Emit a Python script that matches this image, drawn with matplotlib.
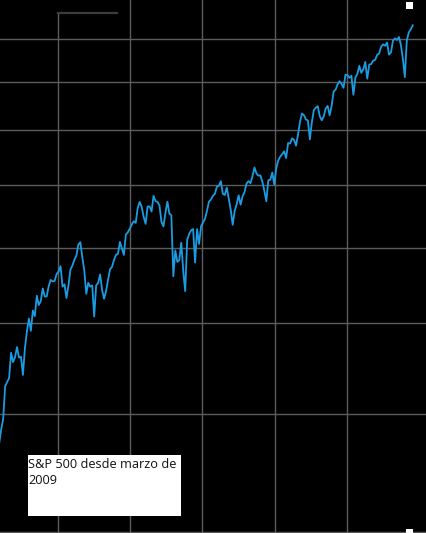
import numpy as np
import pandas as pd
import matplotlib
matplotlib.use("Agg")
import matplotlib.pyplot as plt
import matplotlib.dates as mdates
from matplotlib.patches import Rectangle
from matplotlib.lines import Line2D

# S&P 500, one value every 10 days starting 2009-03-10
sp_2009 = [745, 770, 790, 856, 865, 873, 929, 908, 919, 942, 918, 920,
           880, 940, 979, 1010, 980, 1030, 1016, 1068, 1044, 1054, 1087, 1066,
           1066, 1093, 1110, 1106, 1107, 1126]
sp_2010 = [1133, 1148, 1092, 1098, 1062, 1095, 1138, 1150, 1166, 1178, 1210, 1217,
           1173, 1136, 1073, 1102, 1092, 1095, 1015, 1095, 1102, 1125, 1083, 1060,
           1080, 1110, 1139, 1146, 1165, 1180, 1183, 1218, 1199, 1180, 1240, 1247, 1258]
sp_2011 = [1271, 1281, 1276, 1324, 1343, 1327, 1295, 1273, 1328, 1328, 1312, 1363,
           1346, 1343, 1331, 1279, 1265, 1307, 1344, 1305, 1300, 1120, 1193, 1160,
           1165, 1216, 1135, 1080, 1224, 1242, 1253, 1257, 1158, 1257, 1212, 1265]
sp_2012 = [1277, 1289, 1314, 1344, 1351, 1363, 1370, 1394, 1397, 1413, 1370, 1366,
           1391, 1353, 1318, 1270, 1314, 1335, 1365, 1334, 1362, 1376, 1405, 1413, 1406,
           1430, 1461, 1440, 1432, 1433, 1411, 1380, 1345, 1416, 1418, 1443, 1402]
sp_2013 = [1458, 1486, 1500, 1509, 1520, 1495, 1551, 1549, 1569, 1563, 1541, 1583,
           1633, 1667, 1660, 1643, 1639, 1565, 1632, 1681, 1691, 1697, 1656, 1640,
           1655, 1688, 1698, 1660, 1698, 1759, 1767, 1790, 1804, 1792, 1775, 1833]
sp_2014 = [1831, 1819, 1828, 1745, 1820, 1836, 1873, 1841, 1857, 1891, 1815, 1879,
           1881, 1897, 1900, 1924, 1930, 1962, 1974, 1967, 1983, 1925, 1936, 1992, 2003,
           1995, 2010, 1972, 1906, 1822, 1994, 2032, 2048, 2068]

sp500 = sp_2009 + sp_2010 + sp_2011 + sp_2012 + sp_2013 + sp_2014
dates = pd.date_range("2009-03-10", periods=len(sp500), freq="10D")

grid_levels = [2000, 1800, 1600, 1400, 1200, 1000, 800, 600]
grid_years = ["2010-01-01", "2011-01-01", "2012-01-01", "2013-01-01", "2014-01-01"]

W, H = 427, 533
fig = plt.figure(figsize=(W / 100, H / 100), dpi=100)
fig.patch.set_facecolor("black")
ax = fig.add_axes([0, 0, 1, 1])
ax.set_facecolor("black")

ax.set_yscale("log")
ax.set_ylim(598, 2200)
ax.set_xlim(pd.Timestamp("2009-03-14"), pd.Timestamp("2015-02-09"))

gridc = "#5c5c5c"
for lv in grid_levels:
    ax.axhline(lv, color=gridc, lw=1.0, zorder=1)
for i, d in enumerate(grid_years):
    top = 1 - 13 / H if i == 0 else 1
    ax.axvline(pd.Timestamp(d), ymin=0, ymax=top, color=gridc, lw=1.0, zorder=1)

ax.plot(dates, sp500, color="#1b9ce2", lw=1.3, zorder=3)

for s in ax.spines.values():
    s.set_visible(False)
ax.set_xticks([])
ax.set_yticks([])
ax.minorticks_off()

def px_rect(x, y, w, h, **kw):
    # rectangle given in image pixels (top-left origin)
    fig.add_artist(Rectangle((x / W, 1 - (y + h) / H), w / W, h / H,
                             transform=fig.transFigure, **kw))

# odd gray bracket at the top
fig.add_artist(Line2D([58 / W, 117 / W], [1 - 13 / H, 1 - 13 / H],
                      transform=fig.transFigure, color="#3c3c3c", lw=1.6))

# white handle squares on the right
px_rect(406, 2, 7, 7, facecolor="white", edgecolor="none", zorder=5)
px_rect(406, 529, 7, 7, facecolor="white", edgecolor="none", zorder=5)

# caption box
px_rect(28, 455, 153, 61, facecolor="white", edgecolor="none", zorder=5)
fig.text(28 / W, 1 - 458 / H, "S&P 500 desde marzo de\n2009", ha="left", va="top",
         fontsize=9.2, family="Open Sans", color="#111111", linespacing=1.25, zorder=6)

fig.savefig("out.png", dpi=100, facecolor="black")
